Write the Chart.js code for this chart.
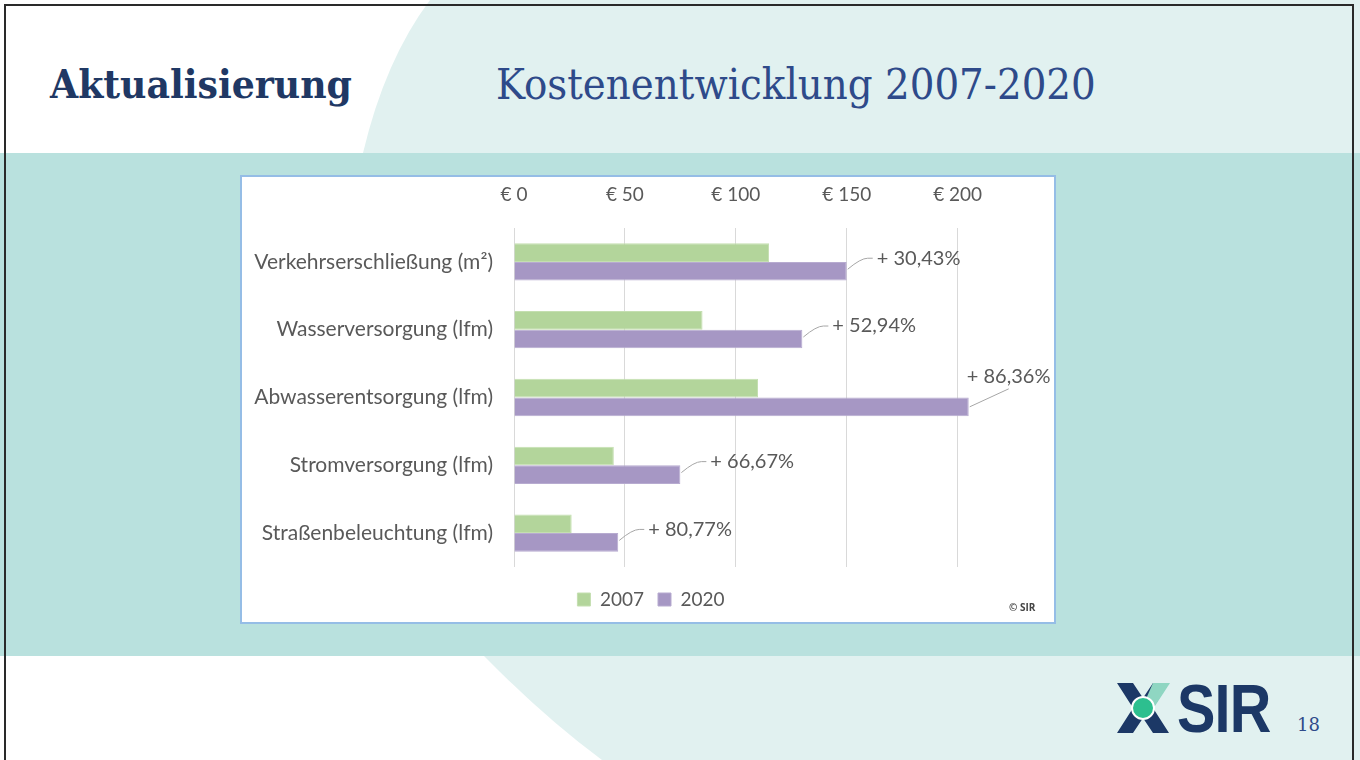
<!DOCTYPE html>
<html lang="de">
<head>
<meta charset="UTF-8">
<title>Kostenentwicklung 2007-2020</title>
<script src="https://cdn.jsdelivr.net/npm/chart.js@4.4.1/dist/chart.umd.min.js"></script>
<style>
    body { margin: 0; background: #fff; }
    #slide { position: relative; width: 1360px; height: 760px; overflow: hidden; background: #fff; }
    #bg { position: absolute; left: 0; top: 0; }
    .title { position: absolute; white-space: nowrap; transform-origin: left top; }
    #t1 { left: 50px; top: 60px; font: bold 40px "DejaVu Serif", serif; color: #203864; }
    #t2 { left: 496px; top: 60px; font: 42px "DejaVu Serif", serif; color: #2e4a8a; }
    #box { position: absolute; left: 240px; top: 175px; width: 816px; height: 449px;
           box-sizing: border-box; border: 2px solid #95bde6; background: #fff; }
    #copy { position: absolute; left: 1009px; top: 600px; font: bold 10px "Open Sans", sans-serif; color: #444; }
    #logo { position: absolute; left: 1177px; top: 674px; font: bold 68px/68px "Liberation Sans", Arial, sans-serif;
            color: #1c3866; letter-spacing: -1px; transform-origin: left top; white-space: nowrap; }
    #page { position: absolute; left: 1297px; top: 716px; font: 18px/18px "DejaVu Serif", serif; color: #2e4a8a; }
</style>
</head>
<body>
<div id="slide">
    <svg id="bg" width="1360" height="760">
        <path d="M430 0 Q385 60 363 153 L1360 153 L1360 0 Z" fill="#e1f1f0"/>
        <rect x="0" y="153" width="1360" height="503" fill="#b9e1de"/>
        <path d="M484 656 Q545 718 602 760 L1360 760 L1360 656 Z" fill="#e1f1f0"/>
        <rect x="5" y="5" width="1348" height="760" fill="none" stroke="#2a2a2a" stroke-width="2"/>
        <!-- Logo-Symbol -->
        <g transform="translate(1143,708)">
            <path d="M-26 -25 L-10 -25 L0 -10 L10 -25 L26 -25 L10 0 L26 25 L10 25 L0 10 L-10 25 L-26 25 L-10 0 Z" fill="#1c3866"/>
            <path d="M10 -25 L27 -25 L12 -2 L3 -9 Z" fill="#8fd6c2"/>
            <circle cx="0" cy="0" r="11" fill="#2dbf8f" stroke="#fff" stroke-width="2"/>
        </g>
    </svg>
    <div id="t1" class="title">Aktualisierung</div>
    <div id="t2" class="title">Kostenentwicklung 2007-2020</div>
    <div id="box"><canvas id="chart" width="812" height="445"></canvas></div>
    <div id="copy">© SIR</div>
    <div id="logo">SIR</div>
    <div id="page">18</div>
</div>
<script>
    // Daten
    const categories = ['Verkehrserschließung (m²)', 'Wasserversorgung (lfm)', 'Abwasserentsorgung (lfm)',
        'Stromversorgung (lfm)', 'Straßenbeleuchtung (lfm)'];
    const costs2007 = [115, 85, 110, 45, 26];
    const costs2020 = [150, 130, 205, 75, 47];
    const changeLabels = ['+ 30,43%', '+ 52,94%', '+ 86,36%', '+ 66,67%', '+ 80,77%'];
    const tickValues = [0, 50, 100, 150, 200];

    // Titel auf Breite bringen
    function fitWidth(id, w) {
        const el = document.getElementById(id);
        el.style.transform = 'scaleX(' + (w / el.offsetWidth) + ')';
    }
    fitWidth('t1', 302);
    fitWidth('t2', 600);
    fitWidth('logo', 93);

    const textGray = '#595959';
    const font = 'Lato, "Open Sans", sans-serif';

    // Legende etwas verschieben (liegt in der Vorlage unter der Diagrammmitte)
    const legendShift = {
        id: 'legendShift',
        afterLayout(chart) {
            const lg = chart.legend;
            lg.left += 29; lg.right += 29;
            lg.top += 9; lg.bottom += 9;
        }
    };

    // Prozent-Beschriftung mit Führungslinie
    const changePlugin = {
        id: 'changeLabels',
        afterDatasetsDraw(chart) {
            const ctx = chart.ctx;
            const meta = chart.getDatasetMeta(1);
            ctx.save();
            ctx.font = '20px ' + font;
            ctx.fillStyle = textGray;
            ctx.strokeStyle = '#a6a6a6';
            ctx.lineWidth = 1;
            ctx.textBaseline = 'middle';
            ctx.textAlign = 'left';
            meta.data.forEach((bar, i) => {
                const text = changeLabels[i];
                const w = ctx.measureText(text).width;
                const x = bar.x, y = bar.y;
                ctx.beginPath();
                if (x + 30 + w > chart.width - 2) {
                    ctx.moveTo(x + 1, y);
                    ctx.lineTo(x + 40, y - 18);
                    ctx.stroke();
                    ctx.fillText(text, x - 2, y - 30);
                } else {
                    ctx.moveTo(x + 1, y - 2);
                    ctx.quadraticCurveTo(x + 14, y - 13, x + 21, y - 13);
                    ctx.lineTo(x + 26, y - 13);
                    ctx.stroke();
                    ctx.fillText(text, x + 30, y - 13);
                }
            });
            ctx.restore();
        }
    };

    new Chart(document.getElementById('chart'), {
        type: 'bar',
        data: {
            labels: categories,
            datasets: [
                { label: '2007', data: costs2007, backgroundColor: '#b3d59b', borderColor: '#c4dfb0', borderWidth: 1 },
                { label: '2020', data: costs2020, backgroundColor: '#a697c4', borderColor: '#b7abd0', borderWidth: 1 }
            ]
        },
        options: {
            indexAxis: 'y',
            responsive: false,
            animation: false,
            categoryPercentage: 0.55,
            barPercentage: 1.0,
            layout: { padding: { left: 0, right: 52, top: 0, bottom: 12 } },
            scales: {
                x: {
                    position: 'top',
                    min: 0,
                    max: 220,
                    afterBuildTicks: s => { s.ticks = tickValues.map(v => ({ value: v })); },
                    afterFit: s => { s.height = 51; },
                    ticks: {
                        padding: 22,
                        color: textGray,
                        font: { family: font, size: 19 },
                        callback: v => '€ ' + v
                    },
                    grid: { color: '#d9d9d9', drawTicks: false },
                    border: { display: false }
                },
                y: {
                    afterFit: s => { s.width = 272; },
                    ticks: { padding: 13, color: textGray, font: { family: font, size: 21 } },
                    grid: { display: false },
                    border: { display: false }
                }
            },
            plugins: {
                legend: {
                    position: 'bottom',
                    labels: {
                        boxWidth: 13, boxHeight: 13, padding: 14,
                        color: textGray, font: { family: font, size: 19 }
                    }
                },
                tooltip: { enabled: false }
            }
        },
        plugins: [legendShift, changePlugin]
    });
</script>
</body>
</html>
